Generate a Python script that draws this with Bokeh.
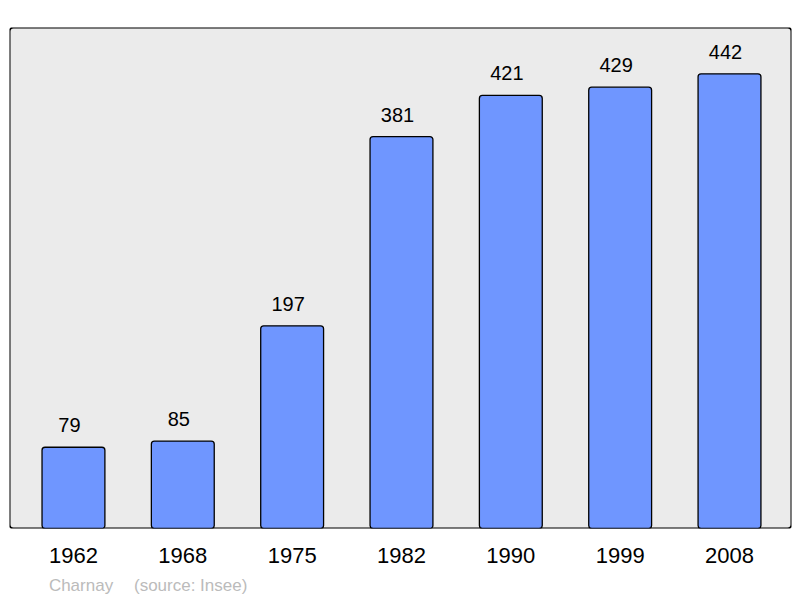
from bokeh.plotting import figure
from bokeh.models import Range1d, FixedTicker, BoxAnnotation, ColumnDataSource, LinearAxis
from bokeh.core.properties import value
from bokeh.embed import file_html
from bokeh.resources import INLINE

years = ["1962", "1968", "1975", "1982", "1990", "1999", "2008"]
population = [79, 85, 197, 381, 421, 429, 442]
footer_texts = ["Charnay", "(source: Insee)"]
footer_pos = [0.069, 1.072]

xs = list(range(len(years)))
src = ColumnDataSource(dict(x=xs, y=population, label=[str(v) for v in population]))

p = figure(width=792, height=597, output_backend="svg", toolbar_location=None,
           x_range=Range1d(-0.585, len(years) - 1 + 0.567), y_range=Range1d(0, 487),
           min_border_left=9, min_border_right=1, min_border_top=27, min_border_bottom=69)
p.background_fill_color = "white"
p.border_fill_color = "white"
p.outline_line_color = None
p.grid.visible = False
p.yaxis.visible = False

frame_box = BoxAnnotation(fill_color="#ebebeb", fill_alpha=1, line_color="black", line_alpha=1,
                          line_width=2, border_radius=4, level="underlay")
p.add_layout(frame_box)

p.vbar(x="x", top="y", bottom=0, width=0.575, source=src, fill_color="#6f96ff",
       line_color="black", line_width=1.3, border_radius=3)

p.text(x="x", y="y", text="label", source=src, text_align="center", text_baseline="alphabetic",
       x_offset=-4, y_offset=-22, text_font_size="20px", text_color="black",
       text_font=value("Liberation Sans"))

ax = p.xaxis[0]
ax.ticker = FixedTicker(ticks=xs)
ax.major_label_overrides = {i: y for i, y in enumerate(years)}
ax.axis_line_color = None
ax.major_tick_line_color = None
ax.minor_tick_line_color = None
ax.major_label_standoff = 13
ax.major_label_text_font_size = "22px"
ax.major_label_text_font = "Liberation Sans"
ax.major_label_text_color = "black"

ax2 = LinearAxis(ticker=FixedTicker(ticks=footer_pos),
                 major_label_overrides={p_: t for p_, t in zip(footer_pos, footer_texts)})
ax2.axis_line_color = None
ax2.major_tick_line_color = None
ax2.minor_tick_line_color = None
ax2.major_label_standoff = 4
ax2.major_label_text_font_size = "17px"
ax2.major_label_text_font = "Liberation Sans"
ax2.major_label_text_color = "#bbbbbb"
p.add_layout(ax2, "below")

open("out.html", "w").write(file_html(p, INLINE))
